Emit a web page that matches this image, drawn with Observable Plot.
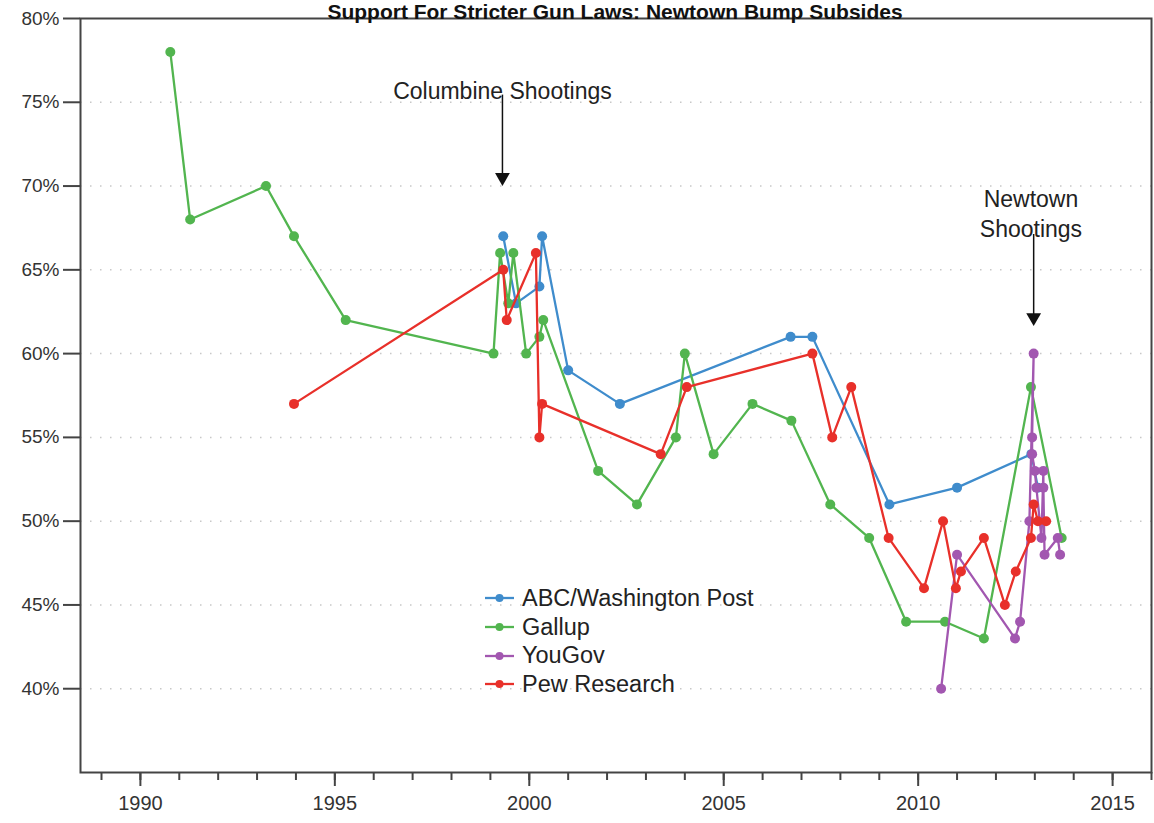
<!DOCTYPE html>
<html>
<head>
<meta charset="utf-8">
<script src="https://cdn.jsdelivr.net/npm/d3@7"></script>
<script src="https://cdn.jsdelivr.net/npm/@observablehq/plot@0.6"></script>
<style>
  html, body { margin: 0; padding: 0; background: #fff; overflow: hidden; }
  #wrap { position: relative; width: 1154px; height: 823px; font-family: "Liberation Sans", Arial, sans-serif; }
  #title { position: absolute; left: 0; width: 1230px; text-align: center; top: 1px; font-weight: bold; font-size: 21px; line-height: 21px; color: #111; z-index: 2; white-space: nowrap; }
  #legend { position: absolute; left: 483px; top: 584px; font-size: 23.5px; color: #222; z-index: 2; }
  #legend .row { height: 28.7px; display: flex; align-items: center; }
  #legend svg { margin-right: 6px; }
</style>
</head>
<body>
<div id="wrap">
  <div id="title">Support For Stricter Gun Laws: Newtown Bump Subsides</div>
  <div id="chart"></div>
  <div id="legend"></div>
</div>
<script>
// ---- data ----
const seriesNames = ["ABC/Washington Post", "Gallup", "YouGov", "Pew Research"];
const seriesColors = ["#3f8ccc", "#52b54f", "#a257b0", "#e8302a"];

const abcYears  = [1999.33, 1999.66, 2000.26, 2000.33, 2001.0, 2002.33, 2006.72, 2007.28, 2009.26, 2011.0, 2012.91, 2013.08];
const abcValues = [67, 63, 64, 67, 59, 57, 61, 61, 51, 52, 54, 52];

const gallupYears  = [1990.77, 1991.28, 1993.23, 1993.95, 1995.28, 1999.08, 1999.25, 1999.46, 1999.59, 1999.92, 2000.26, 2000.36, 2001.77, 2002.77, 2003.77, 2004.0, 2004.74, 2005.74, 2006.74, 2007.74, 2008.74, 2009.69, 2010.69, 2011.69, 2012.9, 2013.69];
const gallupValues = [78, 68, 70, 67, 62, 60, 66, 63, 66, 60, 61, 62, 53, 51, 55, 60, 54, 57, 56, 51, 49, 44, 44, 43, 58, 49];

const yougovYears  = [2010.59, 2011.0, 2012.49, 2012.62, 2012.86, 2012.97, 2012.93, 2012.93, 2013.0, 2013.04, 2013.17, 2013.22, 2013.22, 2013.25, 2013.59, 2013.65];
const yougovValues = [40, 48, 43, 44, 50, 60, 55, 54, 53, 52, 49, 53, 52, 48, 49, 48];

const pewYears  = [1993.95, 1999.33, 1999.42, 2000.17, 2000.26, 2000.33, 2003.38, 2004.05, 2007.28, 2007.79, 2008.28, 2009.24, 2010.15, 2010.64, 2010.97, 2011.1, 2011.69, 2012.23, 2012.51, 2012.9, 2012.97, 2013.08, 2013.29];
const pewValues = [57, 65, 62, 66, 55, 57, 54, 58, 60, 55, 58, 49, 46, 50, 46, 47, 49, 45, 47, 49, 51, 50, 50];

const yTicks = [40, 45, 50, 55, 60, 65, 70, 75, 80];
const xMajorTicks = [1990, 1995, 2000, 2005, 2010, 2015];

const annotationLabels = ["Columbine Shootings", "Newtown\nShootings"];
const annotationYears  = [1999.31, 2012.9];
const annotationTextY  = [75.75, 68.42];
const arrowYears = [1999.31, 2012.97];
const arrowFrom  = [75.07, 66.75];
const arrowTo    = [70.04, 61.68];

// ---- build tables ----
const seriesYears = [abcYears, gallupYears, yougovYears, pewYears];
const seriesValues = [abcValues, gallupValues, yougovValues, pewValues];
const tables = seriesNames.map((name, i) =>
  seriesYears[i].map((yr, j) => ({series: name, year: yr, value: seriesValues[i][j]})));
const annotations = annotationLabels.map((t, i) => ({text: t, x: annotationYears[i], y: annotationTextY[i]}));
const arrows = arrowYears.map((x, i) => ({x, y1: arrowFrom[i], y2: arrowTo[i]}));

const minorTicks = d3.range(1989, 2017);
const gridTicks = yTicks.filter(d => d < 80);

const seriesMarks = [];
tables.forEach((t, i) => {
  seriesMarks.push(Plot.line(t, {x: "year", y: "value", stroke: seriesColors[i], strokeWidth: 2.3, curve: "linear"}));
  seriesMarks.push(Plot.dot(t, {x: "year", y: "value", fill: seriesColors[i], r: 5}));
});

const chart = Plot.plot({
  width: 1154,
  height: 823,
  marginLeft: 80,
  marginRight: 3,
  marginTop: 18,
  marginBottom: 51,
  style: {fontFamily: "'Liberation Sans', Arial, sans-serif", background: "white", color: "#222"},
  x: {domain: [1988.46, 2016]},
  y: {domain: [35, 80]},
  marks: [
    Plot.ruleY(gridTicks, {stroke: "#c8c8c8", strokeWidth: 1.5, strokeDasharray: "1.5,8.5"}),
    Plot.axisY(yTicks, {tickFormat: d => d + "%", tickSize: 17, tickPadding: 4, fontSize: 19, strokeWidth: 2, stroke: "#444", fill: "#333"}),
    Plot.axisX(minorTicks, {tickFormat: () => "", tickSize: 8, strokeWidth: 2, stroke: "#444", label: null}),
    Plot.axisX(xMajorTicks, {tickFormat: d3.format("d"), tickSize: 14, tickPadding: 9, fontSize: 20, strokeWidth: 2, stroke: "#444", fill: "#333", label: null}),
    ...seriesMarks,
    Plot.ruleX(arrows, {x: "x", y1: "y1", y2: "y2", stroke: "#111", strokeWidth: 1.5, dy: -6}),
    Plot.dot(arrows, {x: "x", y: "y2", symbol: "triangle", rotate: 180, r: 5.5, fill: "#111", stroke: "none", dy: -8}),
    Plot.text(annotations, {x: "x", y: "y", text: "text", fontSize: 23, lineHeight: 1.3, lineAnchor: "middle", fill: "#222"}),
    Plot.frame({stroke: "#444", strokeWidth: 2})
  ]
});
document.getElementById("chart").appendChild(chart);

// ---- legend ----
const legend = document.getElementById("legend");
seriesNames.forEach((name, i) => {
  const row = document.createElement("div");
  row.className = "row";
  row.innerHTML = `<svg width="33" height="12"><line x1="2" y1="6" x2="31" y2="6" stroke="${seriesColors[i]}" stroke-width="2.3"/><circle cx="16.5" cy="6" r="4" fill="${seriesColors[i]}"/></svg><span>${name}</span>`;
  legend.appendChild(row);
});
</script>
</body>
</html>
